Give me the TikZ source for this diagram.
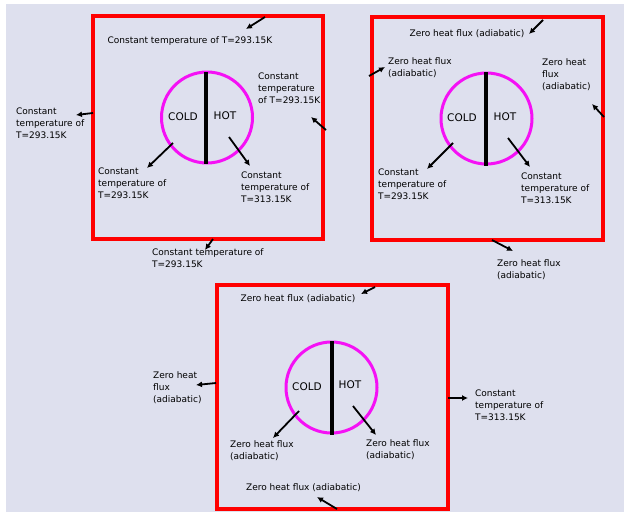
\documentclass[tikz,border=0pt]{standalone}
\usepackage{fontspec}
\setmainfont{DejaVu Sans}
\usetikzlibrary{arrows.meta}
\definecolor{bglav}{HTML}{DEE0EE}
\definecolor{wallred}{HTML}{FF0000}
\definecolor{pipemag}{HTML}{F511F5}
\begin{document}
\begin{tikzpicture}[x=1pt,y=-1pt,
    wall/.style={draw=wallred,line width=3.4pt},
    pipe/.style={draw=pipemag,line width=3pt},
    divider/.style={line width=3.2pt},
    pointer/.style={-{Latex[length=6pt,width=6pt]},line width=1.8pt},
    lbl/.style={font=\fontsize{9}{12}\selectfont,align=left,anchor=west,inner sep=0pt},
    side/.style={font=\fontsize{10.5}{12}\selectfont,inner sep=0pt}]
        \useasboundingbox (0,0) rectangle (624,512);
        \fill[white] (0,0) rectangle (624,512);
        \fill[bglav] (6,4) rectangle (624,512);

        % First case: constant temperature on all outer walls
        \draw[wall] (93,16) rectangle (323,239);
        \draw[pipe] (207,117.5) circle[radius=45.5pt];
        \draw[divider] (206,72) -- (206,164);
        \node[side] (cold1) at (183,117) {COLD};
        \node[side] (hot1) at (225,116) {HOT};
        \node[lbl,anchor=center] (top1) at (190,41) {Constant temperature of T=293.15K};
        \node[lbl] (right1) at (258,88) {Constant\\temperature\\of T=293.15K};
        \node[lbl] (left1) at (16,123) {Constant\\temperature of\\T=293.15K};
        \node[lbl] (bot1) at (152,258.5) {Constant temperature of\\T=293.15K};
        \node[lbl] (in1) at (98,183) {Constant\\temperature of\\T=293.15K};
        \node[lbl] (out1) at (241,187) {Constant\\temperature of\\T=313.15K};
        \coordinate (a1) at (265,17);  \coordinate (b1) at (246,29);
        \coordinate (a2) at (326,130); \coordinate (b2) at (311,117);
        \coordinate (a3) at (93,113);  \coordinate (b3) at (76,115);
        \coordinate (a4) at (213,239); \coordinate (b4) at (205,250);
        \coordinate (a5) at (173,143); \coordinate (b5) at (147,168);
        \coordinate (a6) at (229,137); \coordinate (b6) at (250,166);
        \foreach \i in {1,...,6} \draw[pointer] (a\i) -- (b\i);

        % Second case: adiabatic outer walls
        \draw[wall] (372,17) rectangle (603,240);
        \draw[pipe] (486.5,118.5) circle[radius=45.5pt];
        \draw[divider] (486,72) -- (486,166);
        \node[side] (cold2) at (462,118) {COLD};
        \node[side] (hot2) at (505,117) {HOT};
        \node[lbl,anchor=center] (top2) at (467,34) {Zero heat flux (adiabatic)};
        \node[lbl] (left2) at (388,68) {Zero heat flux\\(adiabatic)};
        \node[lbl] (right2) at (542,74.5) {Zero heat\\flux\\(adiabatic)};
        \node[lbl] (bot2) at (497,270) {Zero heat flux\\(adiabatic)};
        \node[lbl] (in2) at (378,184) {Constant\\temperature of\\T=293.15K};
        \node[lbl] (out2) at (521,188) {Constant\\temperature of\\T=313.15K};
        \coordinate (c1) at (543,20);  \coordinate (d1) at (529,34);
        \coordinate (c2) at (369,76);  \coordinate (d2) at (385,67);
        \coordinate (c3) at (604,117); \coordinate (d3) at (592,104);
        \coordinate (c4) at (492,240); \coordinate (d4) at (513,251);
        \coordinate (c5) at (453,143); \coordinate (d5) at (427,169);
        \coordinate (c6) at (508,138); \coordinate (d6) at (530,167);
        \foreach \i in {1,...,6} \draw[pointer] (c\i) -- (d\i);

        % Third case: one hot wall, the rest adiabatic
        \draw[wall] (217,285) rectangle (448,509);
        \draw[pipe] (331.5,387.5) circle[radius=45.5pt];
        \draw[divider] (332,341) -- (332,435);
        \node[side] (cold3) at (307,387) {COLD};
        \node[side] (hot3) at (350,385) {HOT};
        \node[lbl,anchor=center] (top3) at (298,299) {Zero heat flux (adiabatic)};
        \node[lbl] (left3) at (153,387.5) {Zero heat\\flux\\(adiabatic)};
        \node[lbl] (right3) at (475,405) {Constant\\temperature of\\T=313.15K};
        \node[lbl,anchor=center] (bot3) at (303.5,488) {Zero heat flux (adiabatic)};
        \node[lbl] (in3) at (230,451) {Zero heat flux\\(adiabatic)};
        \node[lbl] (out3) at (366,450) {Zero heat flux\\(adiabatic)};
        \coordinate (e1) at (375,287); \coordinate (f1) at (361,294);
        \coordinate (e2) at (216,383); \coordinate (f2) at (196,385);
        \coordinate (e3) at (448,398); \coordinate (f3) at (468,398);
        \coordinate (e4) at (337,509); \coordinate (f4) at (317,497);
        \coordinate (e5) at (299,411); \coordinate (f5) at (273,438);
        \coordinate (e6) at (353,406); \coordinate (f6) at (376,435);
        \foreach \i in {1,...,6} \draw[pointer] (e\i) -- (f\i);
    \end{tikzpicture}
\end{document}
